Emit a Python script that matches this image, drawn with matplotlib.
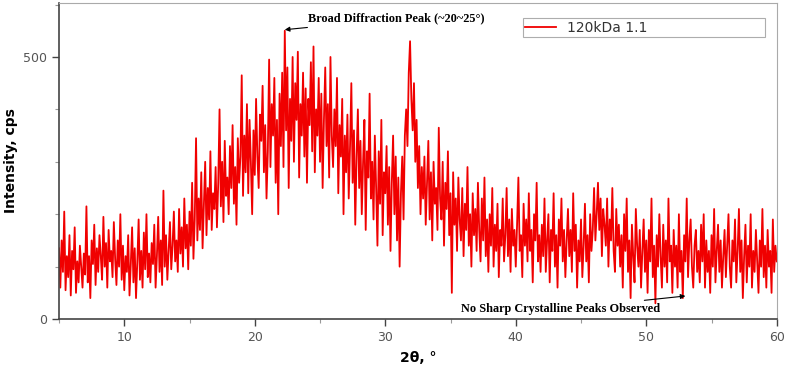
import numpy as np
import matplotlib.pyplot as plt
from matplotlib.ticker import MultipleLocator, FixedLocator

# 2theta grid: 5.0 .. 60.0 deg, 0.1 deg steps (one row of 10 values per degree)
two_theta_start = 5.0
two_theta_step = 0.1

intensity = [
  135, 60, 150, 90, 205, 55, 120, 80, 160, 45,     # 5
  130, 95, 175, 50, 110, 70, 140, 100, 60, 125,    # 6
  85, 215, 70, 120, 40, 150, 105, 180, 65, 135,    # 7
  90, 160, 120, 75, 195, 100, 145, 60, 170, 110,   # 8
  130, 80, 185, 115, 65, 150, 100, 200, 75, 140,   # 9
  55, 120, 90, 160, 45, 105, 175, 70, 135, 40,     # 10
  110, 190, 75, 130, 60, 165, 95, 200, 80, 125,    # 11
  70, 145, 105, 180, 60, 120, 195, 90, 150, 65,    # 12
  245, 100, 160, 75, 130, 185, 95, 140, 205, 110,  # 13
  150, 90, 210, 125, 175, 100, 230, 135, 180, 95,  # 14
  205, 140, 260, 115, 190, 345, 150, 230, 170, 280,  # 15
  135, 220, 300, 160, 250, 190, 320, 170, 240, 210,  # 16
  290, 175, 260, 400, 215, 300, 185, 340, 235, 270,  # 17
  200, 330, 250, 370, 220, 290, 180, 345, 260, 310,  # 18
  465, 235, 350, 280, 410, 240, 380, 300, 200, 360,  # 19
  275, 420, 310, 250, 390, 340, 445, 280, 370, 230,  # 20
  320, 495, 290, 410, 350, 460, 260, 380, 200, 430,  # 21
  330, 470, 290, 550, 360, 480, 250, 420, 340, 500,  # 22
  300, 450, 380, 510, 270, 410, 350, 470, 310, 440,  # 23
  260, 420, 370, 490, 320, 520, 280, 400, 350, 460,  # 24
  300, 430, 250, 380, 480, 330, 410, 270, 500, 350,  # 25
  290, 400, 330, 460, 240, 370, 310, 420, 200, 350,  # 26
  280, 390, 230, 330, 450, 260, 360, 180, 310, 400,  # 27
  250, 340, 200, 300, 380, 170, 320, 270, 430, 230,  # 28
  300, 190, 350, 250, 140, 320, 220, 380, 160, 280,  # 29
  240, 330, 180, 290, 130, 260, 350, 200, 310, 150,  # 30
  270, 100, 240, 310, 190, 350, 400, 330, 470, 530,  # 31
  420, 360, 450, 300, 380, 250, 330, 200, 290, 230,  # 32
  310, 180, 260, 340, 190, 280, 150, 300, 220, 250,  # 33
  170, 365, 230, 190, 300, 140, 260, 210, 320, 160,  # 34
  240, 50, 280, 180, 230, 130, 270, 190, 150, 250,   # 35
  120, 220, 170, 290, 140, 200, 100, 240, 160, 210,  # 36
  130, 260, 170, 110, 230, 150, 270, 120, 190, 90,   # 37
  200, 140, 250, 100, 180, 130, 220, 80, 170, 140,   # 38
  230, 110, 160, 250, 120, 190, 90, 210, 140, 170,   # 39
  100, 180, 270, 130, 160, 80, 220, 140, 190, 110,   # 40
  240, 130, 170, 70, 200, 150, 260, 110, 160, 90,    # 41
  180, 120, 230, 90, 150, 200, 70, 170, 130, 240,    # 42
  100, 160, 60, 190, 140, 230, 110, 170, 80, 150,    # 43
  210, 120, 170, 90, 240, 130, 180, 60, 150, 110,    # 44
  190, 80, 140, 220, 110, 160, 70, 200, 130, 170,    # 45
  250, 150, 200, 260, 170, 230, 120, 210, 180, 140,  # 46
  230, 100, 190, 150, 250, 130, 90, 210, 140, 180,   # 47
  100, 160, 60, 200, 130, 230, 90, 150, 40, 180,     # 48
  120, 70, 210, 140, 100, 170, 60, 130, 190, 90,     # 49
  150, 50, 170, 110, 230, 80, 140, 30, 160, 100,     # 50
  200, 120, 60, 180, 100, 150, 70, 230, 110, 140,    # 51
  50, 170, 100, 140, 60, 200, 90, 130, 40, 160,      # 52
  110, 230, 80, 150, 190, 100, 60, 140, 170, 90,     # 53
  130, 70, 180, 110, 200, 60, 150, 90, 130, 50,      # 54
  160, 100, 210, 70, 130, 180, 90, 150, 60, 120,     # 55
  170, 80, 140, 200, 100, 60, 150, 110, 190, 70,     # 56
  130, 210, 90, 150, 40, 120, 180, 70, 140, 100,     # 57
  200, 60, 130, 90, 170, 110, 50, 150, 100, 210,     # 58
  80, 140, 60, 170, 100, 130, 50, 190, 90, 140,      # 59
  110,                                               # 60
]

series_label = "120kDa 1.1"
x_ticks = [10, 20, 30, 40, 50, 60]
y_ticks = [0, 500]

two_theta = two_theta_start + two_theta_step * np.arange(len(intensity))

fig = plt.figure(figsize=(7.87, 3.71), dpi=100)
ax = fig.add_axes([0.075, 0.140, 0.912, 0.852])

ax.plot(two_theta, intensity, color="#f00000", lw=1.3, label=series_label)

ax.set_xlim(5, 60)
ax.set_ylim(0, 603)
ax.xaxis.set_major_locator(FixedLocator(x_ticks))
ax.xaxis.set_minor_locator(MultipleLocator(5))
ax.yaxis.set_major_locator(FixedLocator(y_ticks))
ax.yaxis.set_minor_locator(MultipleLocator(100))

ax.tick_params(which="major", length=5, width=1, color="#444444",
               labelcolor="#555555", labelsize=9)
ax.tick_params(which="minor", length=3, width=0.8, color="#999999")

for side in ["left", "bottom"]:
  ax.spines[side].set_color("#444444")
  ax.spines[side].set_linewidth(1.2)
for side in ["top", "right"]:
  ax.spines[side].set_color("#aaaaaa")
  ax.spines[side].set_linewidth(0.8)

ax.set_ylabel("Intensity, cps", fontsize=10, fontweight="bold", labelpad=4)
ax.set_xlabel("2θ, °", fontsize=10, fontweight="bold", labelpad=5)

leg = ax.legend(loc="upper left", bbox_to_anchor=(0.646, 0.889, 0.337, 0.064),
                mode="expand", frameon=True, fancybox=False, fontsize=10,
                handlelength=2.2, borderpad=0.2, borderaxespad=0)
leg.get_frame().set_edgecolor("#999999")
leg.get_frame().set_linewidth(0.8)
for t in leg.get_texts():
  t.set_color("#333333")

ax.annotate("Broad Diffraction Peak (~20~25°)", xy=(22.3, 552), xytext=(24.1, 573),
            fontsize=8.8, fontweight="bold", family="Liberation Serif",
            ha="left", va="center",
            arrowprops=dict(arrowstyle="-|>", color="black", lw=0.8,
                            shrinkA=0, shrinkB=0, mutation_scale=7))
ax.annotate("No Sharp Crystalline Peaks Observed", xy=(53.0, 44), xytext=(51.1, 19),
            fontsize=8.8, fontweight="bold", family="Liberation Serif",
            ha="right", va="center",
            arrowprops=dict(arrowstyle="-|>", color="black", lw=0.8,
                            shrinkA=0, shrinkB=0, mutation_scale=7))

fig.savefig("out.png", dpi=100)
